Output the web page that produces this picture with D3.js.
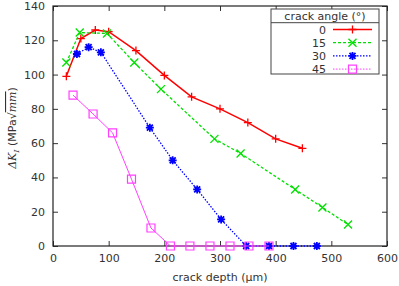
<!DOCTYPE html>
<html><head><meta charset="utf-8">
<script src="https://cdn.jsdelivr.net/npm/d3@7"></script>
<style>
body{margin:0;background:#fff;}
text{font-family:"DejaVu Sans",sans-serif;}
</style></head>
<body>
<svg id="c" width="399" height="286"></svg>
<script>
const xTicks = [0,100,200,300,400,500,600];
const yTicks = [0,20,40,60,80,100,120,140];
const seriesNames = ["0","15","30","45"];
const x0 = [24,50,76,100,149,200,249,300,350,400,448];
const y0 = [99,121,126,125,114,99.5,87,80,72,62.5,57];
const x15 = [24,48,97,146,194,290,337,435,484,530];
const y15 = [107,124.5,124,107,91.5,62.5,54,33,22.5,12.5];
const x30 = [43,64,86,174,215,259,302,347,388,432,474];
const y30 = [112,116,113,69,50,33,15.5,0,0,0,0];
const x45 = [36,72,107,141,176,211,246,282,318,352,388];
const y45 = [88,77,66,39,10.5,0,0,0,0,0,0];
const colors = ["#ff0000","#00e000","#0000ff","#ff40ff"];

const svg = d3.select("#c");
const m = {l:53, r:12, t:6, b:40};
const W = 399, H = 286;
const x = d3.scaleLinear().domain([0,600]).range([m.l, W-m.r]);
const y = d3.scaleLinear().domain([0,140]).range([H-m.b, m.t]);

const g = svg.append("g");
// axes with inward ticks
const tk = 5;
g.append("g").attr("transform",`translate(0,${y(0)})`)
 .call(d3.axisBottom(x).tickValues(xTicks).tickSizeInner(-tk).tickSizeOuter(0).tickPadding(8))
 .call(a=>{a.select(".domain").remove(); a.selectAll("text").attr("font-size",11).attr("fill","#333");});
g.append("g").attr("transform",`translate(0,${y(140)})`)
 .call(d3.axisTop(x).tickValues(xTicks).tickSizeInner(-tk).tickSizeOuter(0).tickFormat(""))
 .call(a=>a.select(".domain").remove());
g.append("g").attr("transform",`translate(${x(0)},0)`)
 .call(d3.axisLeft(y).tickValues(yTicks).tickSizeInner(-tk).tickSizeOuter(0).tickPadding(8))
 .call(a=>{a.select(".domain").remove(); a.selectAll("text").attr("font-size",11).attr("fill","#333");});
g.append("g").attr("transform",`translate(${x(600)},0)`)
 .call(d3.axisRight(y).tickValues(yTicks).tickSizeInner(-tk).tickSizeOuter(0).tickFormat(""))
 .call(a=>a.select(".domain").remove());
g.selectAll(".tick line").attr("stroke","#333");
g.append("rect").attr("x",x(0)).attr("y",y(140)).attr("width",x(600)-x(0)).attr("height",y(0)-y(140))
 .attr("fill","none").attr("stroke","#222").attr("stroke-width",1.2);

// labels
svg.append("text").attr("x",(x(0)+x(600))/2).attr("y",281).attr("text-anchor","middle")
 .attr("font-size",11).attr("fill","#333").text("crack depth (μm)");
const yl = svg.append("text").attr("transform",`translate(16,${(y(0)+y(140))/2+2}) rotate(-90)`)
 .attr("text-anchor","middle").attr("font-size",11).attr("fill","#333");
yl.append("tspan").attr("font-family","DejaVu Serif").attr("font-style","italic").text("ΔK");
yl.append("tspan").attr("font-family","DejaVu Serif").attr("font-style","italic").attr("font-size",8).attr("dy",3).text("I");
yl.append("tspan").attr("dy",-3).text(" (MPa");
yl.append("tspan").attr("font-family","DejaVu Serif").text("√");
yl.append("tspan").attr("font-family","DejaVu Serif").attr("font-style","italic").attr("text-decoration","overline").text("mm");
yl.append("tspan").text(")");

const data = [[x0,y0],[x15,y15],[x30,y30],[x45,y45]];
const dashes = [null,"3,2","1.5,1.5",null];
const widths = [1.5,1.3,1.3,1];
function marker(sel, i, cx, cy){
  const s = 4, c = colors[i];
  const p = sel.append("path").attr("fill","none").attr("stroke",c).attr("stroke-width",1.3);
  if(i===0) p.attr("d",`M${cx-s},${cy}H${cx+s}M${cx},${cy-s}V${cy+s}`);
  else if(i===1) p.attr("d",`M${cx-s},${cy-s}L${cx+s},${cy+s}M${cx-s},${cy+s}L${cx+s},${cy-s}`);
  else if(i===2) p.attr("d",`M${cx-s},${cy}H${cx+s}M${cx},${cy-s}V${cy+s}M${cx-s*0.75},${cy-s*0.75}L${cx+s*0.75},${cy+s*0.75}M${cx-s*0.75},${cy+s*0.75}L${cx+s*0.75},${cy-s*0.75}`).attr("stroke-width",1.8);
  else p.attr("d",`M${cx-s},${cy-s}H${cx+s}V${cy+s}H${cx-s}Z`).attr("stroke-width",1.2);
}
const line = d3.line().x(d=>x(d[0])).y(d=>y(d[1]));
data.forEach(([xs,ys],i)=>{
  const pts = xs.map((v,j)=>[v,ys[j]]);
  svg.append("path").datum(pts).attr("d",line).attr("fill","none").attr("stroke",colors[i])
    .attr("stroke-width",widths[i]).attr("stroke-dasharray",dashes[i]);
  const mg = svg.append("g");
  pts.forEach(p=>marker(mg,i,x(p[0]),y(p[1])));
});

// legend
const lx0=271, lx1=379, ly0=9, ly1=74, lh=22.7;
svg.append("rect").attr("x",lx0).attr("y",ly0).attr("width",lx1-lx0).attr("height",ly1-ly0)
  .attr("fill","#fff").attr("stroke","#444").attr("stroke-width",1);
svg.append("line").attr("x1",lx0).attr("x2",lx1).attr("y1",lh).attr("y2",lh).attr("stroke","#444");
svg.append("text").attr("x",(lx0+lx1)/2).attr("y",20).attr("text-anchor","middle").attr("font-size",11).attr("fill","#333").text("crack angle (°)");
seriesNames.forEach((n,i)=>{
  const yy = 29.5 + i*13.2;
  svg.append("text").attr("x",326).attr("y",yy+4).attr("text-anchor","end").attr("font-size",11).attr("fill","#333").text(n);
  svg.append("line").attr("x1",333).attr("x2",372).attr("y1",yy).attr("y2",yy).attr("stroke",colors[i])
    .attr("stroke-width",widths[i]).attr("stroke-dasharray",i===3?"1.5,1.5":dashes[i]);
  marker(svg,i,352.5,yy);
});
</script>
</body></html>
